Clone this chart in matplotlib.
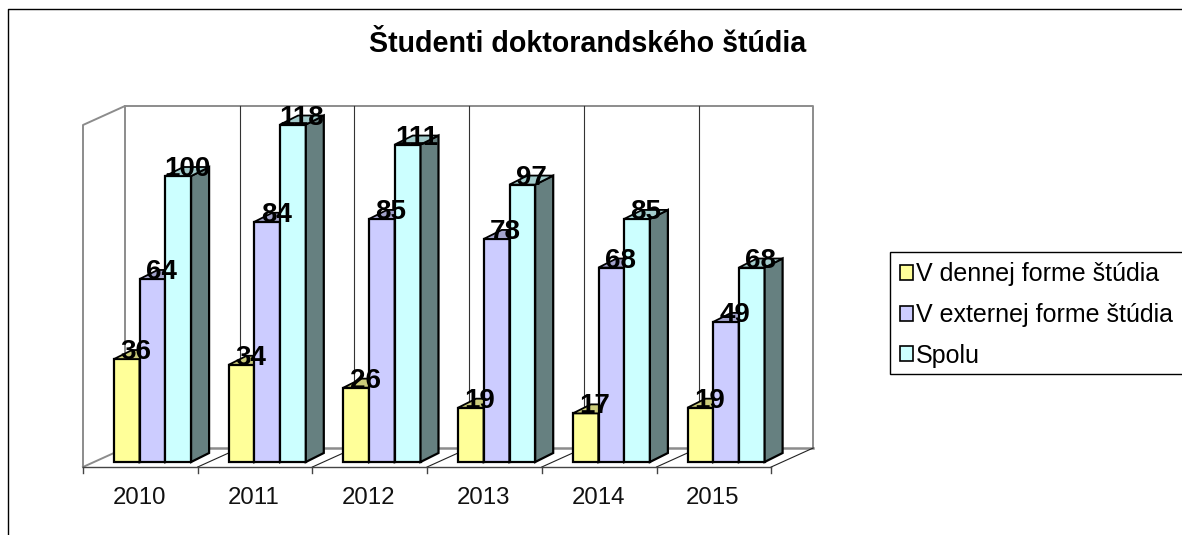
import matplotlib
matplotlib.use('Agg')
import matplotlib.pyplot as plt
import matplotlib.patches as mpatches
from matplotlib.lines import Line2D

plt.rcParams['font.family'] = ['Liberation Sans', 'DejaVu Sans']

years = ['2010', '2011', '2012', '2013', '2014', '2015']
denna = [36, 34, 26, 19, 17, 19]
externa = [64, 84, 85, 78, 68, 49]
spolu = [100, 118, 111, 97, 85, 68]
series_names = ['V dennej forme štúdia', 'V externej forme štúdia', 'Spolu']

FRONT = ['#FFFF99', '#CCCCFF', '#CCFFFF']
TOP = ['#CCCC7A', '#A3A3CC', '#A3CCCC']
SIDE = ['#808060', '#7A7A99', '#668080']
WALL = '#8C8C8C'

W, H = 1182, 535
PX_X = 114.7    # pixels per category
PX_Y = 2.86     # pixels per unit of value
X0, Y0 = 83, 462   # left end of the axis, foot of the bars
BAR_W = 25.7 / PX_X
BAR_OFF = 31 / PX_X
DX, DY = 18 / PX_X, 9 / PX_Y          # depth of a bar
AX_Y = -5 / PX_Y                      # front edge of the floor
WX, WY = 42 / PX_X, 19 / PX_Y         # depth of the floor
TOP_V = (467 - 125) / PX_Y            # height of the wall

fig = plt.figure(figsize=(W / 100, H / 100), dpi=100)
ax = fig.add_axes([0, 0, 1, 1])
ax.set_xlim(-X0 / PX_X, (W - X0) / PX_X)
ax.set_ylim(-(H - Y0) / PX_Y, Y0 / PX_Y)
ax.axis('off')

n = len(years)

# walls and floor
ax.plot([0, 0, WX, WX], [AX_Y, AX_Y + TOP_V, AX_Y + TOP_V + WY, AX_Y + WY],
        color=WALL, lw=1.4, zorder=1)
ax.plot([WX, n + WX, n + WX], [AX_Y + TOP_V + WY, AX_Y + TOP_V + WY, AX_Y + WY],
        color=WALL, lw=1.4, zorder=1)
ax.plot([WX, n + WX], [AX_Y + WY, AX_Y + WY], color=WALL, lw=1.8, zorder=1)
ax.plot([0, WX], [AX_Y, AX_Y + WY], color=WALL, lw=1.4, zorder=1)
for k in range(1, n):
    ax.plot([k + WX, k + WX], [AX_Y + WY, AX_Y + TOP_V + WY], color='#333333', lw=0.8, zorder=1)
for k in range(1, n + 1):
    ax.plot([k, k + WX], [AX_Y, AX_Y + WY], color='#222222', lw=0.8, zorder=1)

# category axis
ax.plot([0, n], [AX_Y, AX_Y], color='#444444', lw=1, zorder=2)
for k in range(n + 1):
    ax.plot([k, k], [AX_Y, AX_Y - 6 / PX_Y], color='#444444', lw=1, zorder=2)
for k, year in enumerate(years):
    ax.text(k + 0.5 - 0.01, AX_Y - 31 / PX_Y, year, ha='center', va='center', fontsize=17.3, color='#111111')

# bars
for g in range(n):
    for s, values in enumerate([denna, externa, spolu]):
        v = values[g]
        x = g + BAR_OFF + s * BAR_W
        z = 3 + g + s * 0.1
        ax.bar(x, v, width=BAR_W, align='edge', color=FRONT[s], edgecolor='black', linewidth=1.6, zorder=z)
        r = x + BAR_W
        ax.add_patch(mpatches.Polygon([(r, 0), (r + DX, DY), (r + DX, v + DY), (r, v)], closed=True,
                                      facecolor=SIDE[s], edgecolor='black', linewidth=1.6, zorder=z))
        ax.add_patch(mpatches.Polygon([(x, v), (x + DX, v + DY), (r + DX, v + DY), (r, v)], closed=True,
                                      facecolor=TOP[s], edgecolor='black', linewidth=1.3, zorder=z))

# value labels go above everything
for g in range(n):
    for s, values in enumerate([denna, externa, spolu]):
        v = values[g]
        x = g + BAR_OFF + s * BAR_W
        ax.text(x + BAR_W / 2 + DX / 2, v + 7 / PX_Y, str(v), ha='center', va='center',
                fontsize=20, fontweight='bold', color='black', zorder=20)

fig.text(588 / W, 1 - 44 / H, 'Študenti doktorandského štúdia', ha='center', va='center',
         fontsize=20.6, fontweight='bold', color='black')

# chart frame
fig.add_artist(Line2D([8 / W, 8 / W, 1], [0, 1 - 9 / H, 1 - 9 / H], color='black', lw=1))

# legend box runs off the right edge, so it is drawn apart from the entries
fig.add_artist(mpatches.Rectangle((889.5 / W, 1 - 374 / H), 300 / W, 122 / H, transform=fig.transFigure,
                                  facecolor='white', edgecolor='black', linewidth=1))
handles = [mpatches.Patch(facecolor=c, edgecolor='black', linewidth=1.2) for c in FRONT]
leg = fig.legend(handles, series_names, loc='upper left', bbox_to_anchor=(889 / W, 1 - 252 / H),
                 borderaxespad=0, fontsize=18, frameon=False,
                 handlelength=0.55, handleheight=0.55, handletextpad=0.12,
                 labelspacing=0.66, borderpad=0.42)
leg.set_zorder(5)

fig.savefig('out.png', dpi=100)
